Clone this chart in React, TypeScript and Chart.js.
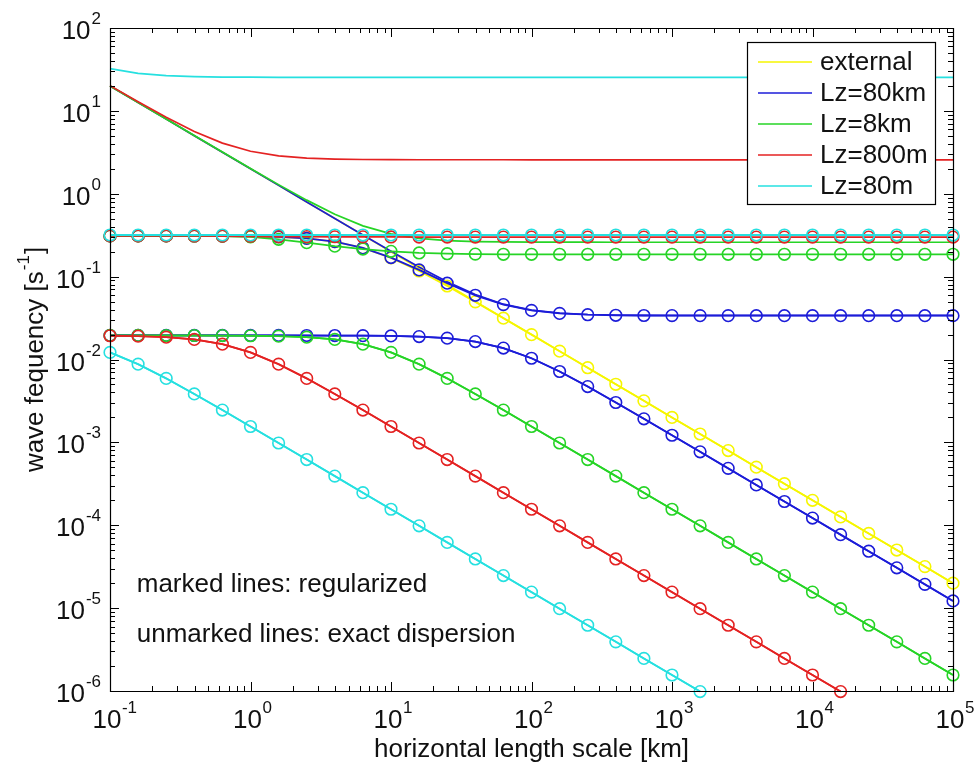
import React, { useEffect, useRef } from 'react';
import { Chart, registerables } from 'chart.js';

Chart.register(...registerables);

// ---------------- data ----------------
const lengthKm = [0.1, 0.15849, 0.25119, 0.39811, 0.63096, 1, 1.5849, 2.5119, 3.9811, 6.3096, 10, 15.849, 25.119, 39.811, 63.096, 100, 158.49, 251.19, 398.11, 630.96, 1000, 1584.9, 2511.9, 3981.1, 6309.6, 10000, 15849, 25119, 39811, 63096, 100000];

// exact dispersion (unmarked)
const externalExact = [20, 12.619, 7.962, 5.024, 3.17, 2, 1.2619, 0.7962, 0.5024, 0.317, 0.2, 0.12619, 0.07962, 0.05024, 0.0317, 0.02, 0.012619, 0.007962, 0.005024, 0.00317, 0.002, 0.0012619, 7.962e-4, 5.024e-4, 3.17e-4, 2e-4, 1.2619e-4, 7.962e-5, 5.024e-5, 3.17e-5, 2e-5];
const lz80kmExactUpper = [20.0, 12.62, 7.962, 5.024, 3.17, 2.0003, 1.2624, 0.79692, 0.50355, 0.31882, 0.20287, 0.13069, 0.086575, 0.060665, 0.046487, 0.039446, 0.036266, 0.03492, 0.034369, 0.034147, 0.034059, 0.034023, 0.034009, 0.034004, 0.034002, 0.034001, 0.034, 0.034, 0.034, 0.034, 0.034];
const lz8kmExactUpper = [20.002, 12.6217, 7.9662, 5.0307, 3.1807, 2.0168, 1.2884, 0.83758, 0.56569, 0.40999, 0.32802, 0.28901, 0.27192, 0.26481, 0.26193, 0.26077, 0.26031, 0.26012, 0.26005, 0.26002, 0.26001, 0.26, 0.26, 0.26, 0.26, 0.26, 0.26, 0.26, 0.26, 0.26, 0.26];
const lz800mExactUpper = [20.165, 12.878, 8.3665, 5.6432, 4.081, 3.2565, 2.8631, 2.6906, 2.6187, 2.5895, 2.5778, 2.5731, 2.5712, 2.5705, 2.5702, 2.5701, 2.57, 2.57, 2.57, 2.57, 2.57, 2.57, 2.57, 2.57, 2.57, 2.57, 2.57, 2.57, 2.57, 2.57, 2.57];
const lz80mExactUpper = [32.329, 28.362, 26.619, 25.893, 25.597, 25.479, 25.431, 25.412, 25.405, 25.402, 25.401, 25.4, 25.4, 25.4, 25.4, 25.4, 25.4, 25.4, 25.4, 25.4, 25.4, 25.4, 25.4, 25.4, 25.4, 25.4, 25.4, 25.4, 25.4, 25.4, 25.4];

const lz80kmLower = [0.0195, 0.0195, 0.0195, 0.0195, 0.0195, 0.019498, 0.019494, 0.019484, 0.019461, 0.019402, 0.019256, 0.018903, 0.018097, 0.016454, 0.013734, 0.010347, 0.0071635, 0.0047155, 0.003029, 0.0019252, 0.0012183, 7.696e-4, 4.858e-4, 3.066e-4, 1.9345e-4, 1.2207e-4, 7.702e-5, 4.86e-5, 3.066e-5, 1.9347e-5, 1.2207e-5];
const lz8kmLower = [0.019498, 0.019496, 0.01949, 0.019476, 0.01944, 0.019349, 0.019128, 0.018604, 0.017458, 0.015311, 0.012181, 0.008787, 0.005918, 0.003842, 0.002453, 0.001555, 9.83e-4, 6.207e-4, 3.918e-4, 2.472e-4, 1.56e-4, 9.843e-5, 6.21e-5, 3.918e-5, 2.472e-5, 1.56e-5, 9.843e-6, 6.21e-6, 3.918e-6, 2.472e-6, 1.56e-6];
const lz800mLower = [0.019349, 0.019128, 0.018604, 0.017458, 0.015311, 0.012181, 0.008787, 0.005918, 0.003842, 0.002453, 0.001555, 9.83e-4, 6.207e-4, 3.918e-4, 2.472e-4, 1.56e-4, 9.843e-5, 6.21e-5, 3.918e-5, 2.472e-5, 1.56e-5, 9.843e-6, 6.21e-6, 3.918e-6, 2.472e-6, 1.56e-6, 9.843e-7];
const lz80mLower = [0.012181, 0.008787, 0.005918, 0.003842, 0.002453, 0.001555, 9.83e-4, 6.207e-4, 3.918e-4, 2.472e-4, 1.56e-4, 9.843e-5, 6.21e-5, 3.918e-5, 2.472e-5, 1.56e-5, 9.843e-6, 6.21e-6, 3.918e-6, 2.472e-6, 1.56e-6, 9.843e-7];

// regularized (marked)
const externalReg = [0.30996, 0.3099, 0.30976, 0.30941, 0.30852, 0.30634, 0.30104, 0.28887, 0.26382, 0.22164, 0.16806, 0.11688, 0.077119, 0.049593, 0.031536, 0.019959, 0.012609, 0.0079595, 0.0050237, 0.00317, 0.002, 0.0012619, 7.962e-4, 5.024e-4, 3.17e-4, 2e-4, 1.2619e-4, 7.962e-5, 5.024e-5, 3.17e-5, 2e-5];
const lz80kmRegUpper = [0.30996, 0.3099, 0.30976, 0.30941, 0.30852, 0.30634, 0.30105, 0.28891, 0.26398, 0.22226, 0.16975, 0.12043, 0.083383, 0.059535, 0.045973, 0.03913, 0.03602, 0.034701, 0.03416, 0.033942, 0.033855, 0.03382, 0.03381, 0.0338, 0.0338, 0.0338, 0.0338, 0.0338, 0.0338, 0.0338, 0.0338];
const lz8kmRegUpper = [0.31, 0.31, 0.3098, 0.3094, 0.3085, 0.302, 0.282, 0.257, 0.233, 0.215, 0.202, 0.193, 0.189, 0.187, 0.186, 0.186, 0.186, 0.186, 0.186, 0.186, 0.186, 0.186, 0.186, 0.186, 0.186, 0.186, 0.186, 0.186, 0.186, 0.186, 0.186];
const lz800mRegUpper = [0.31, 0.31, 0.3098, 0.3094, 0.3085, 0.307, 0.305, 0.304, 0.303, 0.302, 0.301, 0.3, 0.3, 0.3, 0.3, 0.3, 0.3, 0.3, 0.3, 0.3, 0.3, 0.3, 0.3, 0.3, 0.3, 0.3, 0.3, 0.3, 0.3, 0.3, 0.3];
const lz80mRegUpper = [0.318, 0.318, 0.318, 0.318, 0.318, 0.318, 0.318, 0.318, 0.318, 0.318, 0.318, 0.318, 0.318, 0.318, 0.318, 0.318, 0.318, 0.318, 0.318, 0.318, 0.318, 0.318, 0.318, 0.318, 0.318, 0.318, 0.318, 0.318, 0.318, 0.318, 0.318];

const legendLabels = ['external', 'Lz=80km', 'Lz=8km', 'Lz=800m', 'Lz=80m'];
const xTickExponents = [-1, 0, 1, 2, 3, 4, 5];
const yTickExponents = [-6, -5, -4, -3, -2, -1, 0, 1, 2];
const xAxisTitle = 'horizontal length scale [km]';
const yAxisTitleMain = 'wave fequency [s';
const yAxisTitleExp = '-1';
const yAxisTitleEnd = ']';
const noteLines = ['marked lines: regularized', 'unmarked lines: exact dispersion'];
const notePositions = [[0.155, 1.9e-5], [0.155, 4.8e-6]];

// ---------------- styles ----------------
const COLORS = ['#f6f600', '#1c1cd8', '#26d426', '#e42222', '#26e0e0'];
const FONT = "'Liberation Sans', Arial, Helvetica, sans-serif";
const BASE = 26;
const EXP = 17;

const pts = (ys: number[]) => ys.map((y, i) => ({ x: lengthKm[i], y }));

function exactDs(ys: number[], color: string) {
  return {
    data: pts(ys),
    borderColor: color,
    backgroundColor: color,
    borderWidth: 1.7,
    pointRadius: 0,
    pointHoverRadius: 0,
    tension: 0,
    clip: false as any,
  };
}
function regDs(ys: number[], color: string) {
  return {
    data: pts(ys),
    borderColor: color,
    backgroundColor: color,
    borderWidth: 1.8,
    pointRadius: 5.8,
    pointHoverRadius: 5.8,
    pointStyle: 'circle',
    pointBorderColor: color,
    pointBackgroundColor: 'rgba(0,0,0,0)',
    pointBorderWidth: 1.6,
    tension: 0,
    clip: false as any,
  };
}

const matlabPlugin = {
  id: 'matlabAxes',
  afterDatasetsDraw(chart: any) {
    const ctx: CanvasRenderingContext2D = chart.ctx;
    const { left, right, top, bottom } = chart.chartArea;
    const xs = chart.scales.x;
    const ys = chart.scales.y;
    ctx.save();
    ctx.strokeStyle = '#000';
    ctx.fillStyle = '#000';
    ctx.lineWidth = 1.2;
    // box
    ctx.beginPath();
    ctx.rect(left + 0.5, top + 0.5, right - left, bottom - top);
    ctx.stroke();
    const MAJ = 9;
    const MIN = 5;
    ctx.lineWidth = 1;
    ctx.beginPath();
    for (let n = -1; n <= 5; n++) {
      for (let m = 1; m <= 9; m++) {
        const v = m * Math.pow(10, n);
        if (v > 100000 * 1.0001) continue;
        const px = Math.round(xs.getPixelForValue(v)) + 0.5;
        const len = m === 1 ? MAJ : MIN;
        ctx.moveTo(px, bottom);
        ctx.lineTo(px, bottom - len);
        ctx.moveTo(px, top);
        ctx.lineTo(px, top + len);
      }
    }
    for (let n = -6; n <= 2; n++) {
      for (let m = 1; m <= 9; m++) {
        const v = m * Math.pow(10, n);
        if (v > 100 * 1.0001) continue;
        const py = Math.round(ys.getPixelForValue(v)) + 0.5;
        const len = m === 1 ? MAJ : MIN;
        ctx.moveTo(left, py);
        ctx.lineTo(left + len, py);
        ctx.moveTo(right, py);
        ctx.lineTo(right - len, py);
      }
    }
    ctx.stroke();

    // tick labels
    ctx.textBaseline = 'alphabetic';
    ctx.textAlign = 'left';
    ctx.fillStyle = '#111';
    for (const n of yTickExponents) {
      const py = ys.getPixelForValue(Math.pow(10, n));
      ctx.font = `${BASE}px ${FONT}`;
      const wb = ctx.measureText('10').width;
      ctx.font = `${EXP}px ${FONT}`;
      const e = String(n);
      const we = ctx.measureText(e).width;
      const x0 = left - 9 - we - wb - 1;
      ctx.font = `${BASE}px ${FONT}`;
      ctx.fillText('10', x0, py + 11);
      ctx.font = `${EXP}px ${FONT}`;
      ctx.fillText(e, x0 + wb + 1, py - 4);
    }
    for (const n of xTickExponents) {
      const px = xs.getPixelForValue(Math.pow(10, n)) - 3;
      ctx.font = `${BASE}px ${FONT}`;
      const wb = ctx.measureText('10').width;
      ctx.fillText('10', px - wb / 2, bottom + 37);
      ctx.font = `${EXP}px ${FONT}`;
      ctx.fillText(String(n), px + wb / 2 + 0.5, bottom + 22);
    }

    // x title
    ctx.font = `${BASE}px ${FONT}`;
    ctx.textAlign = 'center';
    ctx.fillText(xAxisTitle, (left + right) / 2, 757);

    // y title (rotated)
    ctx.save();
    ctx.translate(43, (top + bottom) / 2);
    ctx.rotate(-Math.PI / 2);
    ctx.textAlign = 'left';
    ctx.font = `${BASE}px ${FONT}`;
    const w1 = ctx.measureText(yAxisTitleMain).width;
    const w3 = ctx.measureText(yAxisTitleEnd).width;
    ctx.font = `${EXP}px ${FONT}`;
    const w2 = ctx.measureText(yAxisTitleExp).width;
    const total = w1 + w2 + w3 + 2;
    let cx = -total / 2;
    ctx.font = `${BASE}px ${FONT}`;
    ctx.fillText(yAxisTitleMain, cx, 0);
    cx += w1 + 1;
    ctx.font = `${EXP}px ${FONT}`;
    ctx.fillText(yAxisTitleExp, cx, -14);
    cx += w2 + 1;
    ctx.font = `${BASE}px ${FONT}`;
    ctx.fillText(yAxisTitleEnd, cx, 0);
    ctx.restore();

    // notes
    ctx.textAlign = 'left';
    ctx.textBaseline = 'middle';
    ctx.font = `${BASE}px ${FONT}`;
    noteLines.forEach((t, i) => {
      const [vx, vy] = notePositions[i];
      ctx.fillText(t, xs.getPixelForValue(vx), ys.getPixelForValue(vy));
    });

    // legend
    const lx0 = 747, ly0 = 42, lx1 = 935, ly1 = 204;
    ctx.fillStyle = '#fff';
    ctx.fillRect(lx0, ly0, lx1 - lx0, ly1 - ly0);
    ctx.strokeStyle = '#000';
    ctx.lineWidth = 1.2;
    ctx.strokeRect(lx0 + 0.5, ly0 + 0.5, lx1 - lx0, ly1 - ly0);
    legendLabels.forEach((lab, i) => {
      const yy = 62 + 31 * i;
      ctx.strokeStyle = COLORS[i];
      ctx.lineWidth = 1.7;
      ctx.beginPath();
      ctx.moveTo(758, yy);
      ctx.lineTo(812, yy);
      ctx.stroke();
      ctx.fillStyle = '#111';
      ctx.font = `${BASE}px ${FONT}`;
      ctx.textBaseline = 'middle';
      ctx.fillText(lab, 820, yy + 1);
    });
    ctx.restore();
  },
};

export default function App() {
  const ref = useRef<HTMLCanvasElement>(null);
  useEffect(() => {
    if (!ref.current) return;
    const [cY, cB, cG, cR, cC] = COLORS;
    // MATLAB plotting order (first = bottom)
    const matlabOrder = [
      exactDs(externalExact, cY),
      exactDs(lz80kmExactUpper, cB),
      exactDs(lz80kmLower, cB),
      exactDs(lz8kmExactUpper, cG),
      exactDs(lz8kmLower, cG),
      exactDs(lz800mExactUpper, cR),
      exactDs(lz800mLower, cR),
      exactDs(lz80mExactUpper, cC),
      exactDs(lz80mLower, cC),
      regDs(externalReg, cY),
      regDs(lz80kmRegUpper, cB),
      regDs(lz80kmLower, cB),
      regDs(lz8kmRegUpper, cG),
      regDs(lz8kmLower, cG),
      regDs(lz800mRegUpper, cR),
      regDs(lz800mLower, cR),
      regDs(lz80mRegUpper, cC),
      regDs(lz80mLower, cC),
    ];
    const datasets = matlabOrder.slice().reverse();
    const chart = new Chart(ref.current, {
      type: 'line',
      data: { datasets: datasets as any },
      options: {
        responsive: false,
        animation: false,
        devicePixelRatio: 1,
        layout: { padding: { left: 0, right: 21, top: 28, bottom: 0 } },
        plugins: { legend: { display: false }, tooltip: { enabled: false } },
        events: [],
        scales: {
          x: {
            type: 'logarithmic',
            min: 0.1,
            max: 100000,
            ticks: { display: false },
            grid: { display: false },
            border: { display: false },
            afterFit: (s: any) => { s.height = 76; },
          },
          y: {
            type: 'logarithmic',
            min: 1e-6,
            max: 100,
            ticks: { display: false },
            grid: { display: false },
            border: { display: false },
            afterFit: (s: any) => { s.width = 110; },
          },
        },
      } as any,
      plugins: [matlabPlugin],
    });
    return () => chart.destroy();
  }, []);
  return (
    <div style={{ position: 'absolute', left: 0, top: 0, width: 974, height: 767, background: '#fff' }}>
      <canvas ref={ref} width={974} height={767} style={{ display: 'block' }} />
    </div>
  );
}
